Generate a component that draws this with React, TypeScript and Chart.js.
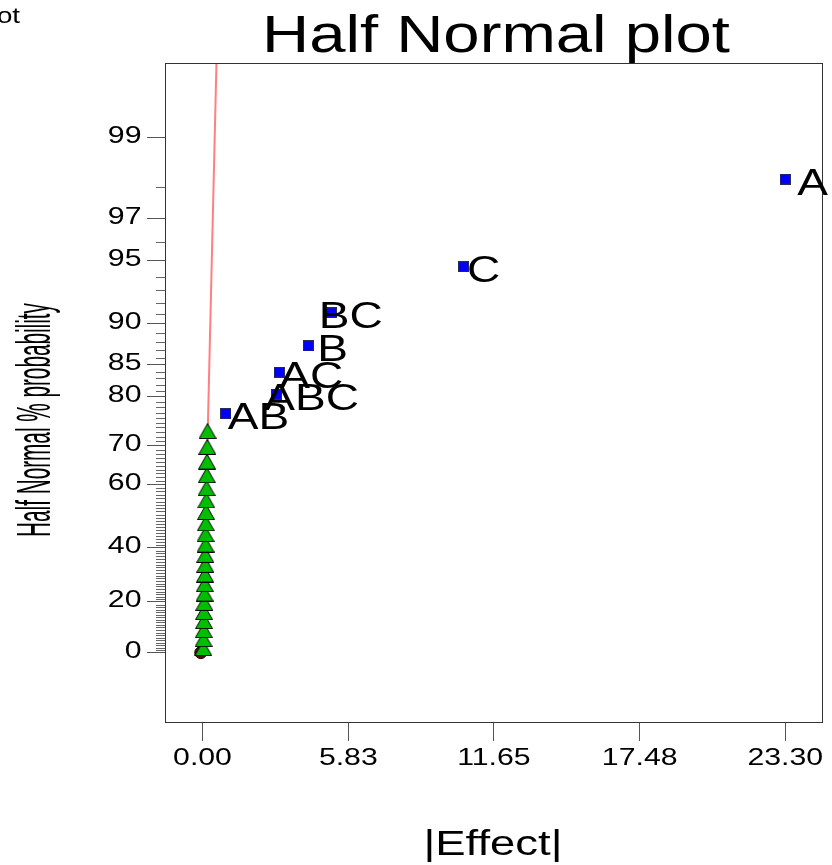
import React, { useEffect, useRef } from 'react';
import { Chart, registerables } from 'chart.js';

Chart.register(...registerables);

const FONT = '"Liberation Sans", Arial, Helvetica, sans-serif';

// Ranked |effect| of the terms treated as noise, with their half-normal plotting positions (%)
const ERROR_EFFECTS = [0.03, 0.04, 0.05, 0.06, 0.06, 0.07, 0.08, 0.09, 0.10, 0.11, 0.11, 0.12, 0.12, 0.13, 0.14, 0.15, 0.16, 0.17, 0.18, 0.19, 0.20];
const ERROR_PROBS = [1.79, 5.36, 8.93, 12.5, 16.07, 19.64, 23.21, 26.79, 30.36, 33.93, 37.5, 41.07, 44.64, 48.21, 51.79, 55.36, 58.93, 62.5, 66.07, 69.64, 73.21];

// Selected model terms
const TERM_NAMES = ['AB', 'ABC', 'AC', 'B', 'BC', 'C', 'A'];
const TERM_EFFECTS = [0.93, 2.95, 3.07, 4.23, 5.15, 10.44, 23.3];
const TERM_PROBS = [76.79, 80.36, 83.93, 87.5, 91.07, 94.64, 98.21];
// horizontal nudge (px) of each term label relative to its marker
const TERM_LABEL_NUDGE = [2, -12, 0, 9, -12.5, 3.5, 12];

// Reference line through the origin fitted to the noise terms
const FIT_EFFECTS = [0, 0.567];
const FIT_PROBS = [0, 99.73];

// Stray marker at the origin
const ORIGIN_EFFECT = [-0.07];
const ORIGIN_PROB = [0];

const Y_MAJOR = [0, 20, 40, 60, 70, 80, 85, 90, 95, 97, 99];
const X_TICKS = [0, 5.83, 11.65, 17.48, 23.3];
const X_TICK_LABELS = ['0.00', '5.83', '11.65', '17.48', '23.30'];

// inverse standard normal CDF (Acklam)
function probit(p: number): number {
  const a = [-3.969683028665376e1, 2.209460984245205e2, -2.759285104469687e2, 1.38357751867269e2, -3.066479806614716e1, 2.506628277459239];
  const b = [-5.447609879822406e1, 1.615858368580409e2, -1.556989798598866e2, 6.680131188771972e1, -1.328068155288572e1];
  const c = [-7.784894002430293e-3, -3.223964580411365e-1, -2.400758277161838, -2.549732539343734, 4.374664141464968, 2.938163982698783];
  const d = [7.784695709041462e-3, 3.224671290700398e-1, 2.445134137142996, 3.754408661907416];
  const pl = 0.02425;
  let q: number, r: number;
  if (p < pl) {
    q = Math.sqrt(-2 * Math.log(p));
    return (((((c[0] * q + c[1]) * q + c[2]) * q + c[3]) * q + c[4]) * q + c[5]) / ((((d[0] * q + d[1]) * q + d[2]) * q + d[3]) * q + 1);
  }
  if (p <= 1 - pl) {
    q = p - 0.5;
    r = q * q;
    return ((((((a[0] * r + a[1]) * r + a[2]) * r + a[3]) * r + a[4]) * r + a[5]) * q) / (((((b[0] * r + b[1]) * r + b[2]) * r + b[3]) * r + b[4]) * r + 1);
  }
  q = Math.sqrt(-2 * Math.log(1 - p));
  return -(((((c[0] * q + c[1]) * q + c[2]) * q + c[3]) * q + c[4]) * q + c[5]) / ((((d[0] * q + d[1]) * q + d[2]) * q + d[3]) * q + 1);
}

// half-normal % probability -> quantile used as the y value
const hn = (pct: number) => (pct <= 0 ? 0 : probit(0.5 + pct / 200));

function drawText(ctx: CanvasRenderingContext2D, text: string, x: number, y: number, size: number, sx: number, align: CanvasTextAlign) {
  ctx.save();
  ctx.font = `${size}px ${FONT}`;
  ctx.textAlign = align;
  ctx.textBaseline = 'alphabetic';
  ctx.fillStyle = '#000';
  ctx.translate(x, y);
  ctx.scale(sx, 1);
  ctx.fillText(text, 0, 0);
  ctx.restore();
}

function makeTriangle(): HTMLCanvasElement {
  const c = document.createElement('canvas');
  c.width = 18;
  c.height = 16;
  const g = c.getContext('2d')!;
  g.beginPath();
  g.moveTo(9, 0.5);
  g.lineTo(17.5, 15.5);
  g.lineTo(0.5, 15.5);
  g.closePath();
  g.fillStyle = '#00bf00';
  g.fill();
  g.strokeStyle = '#000';
  g.lineWidth = 1;
  g.stroke();
  return c;
}

function makeSquare(): HTMLCanvasElement {
  const c = document.createElement('canvas');
  c.width = 11;
  c.height = 11;
  const g = c.getContext('2d')!;
  g.fillStyle = '#0000ff';
  g.fillRect(0, 0, 11, 11);
  g.strokeStyle = '#2a2a55';
  g.lineWidth = 1;
  g.strokeRect(0.5, 0.5, 10, 10);
  return c;
}

const decorations = {
  id: 'halfNormalDecor',
  afterDraw(chart: any) {
    const ctx: CanvasRenderingContext2D = chart.ctx;
    const area = chart.chartArea;
    const xs = chart.scales.x;
    const ys = chart.scales.y;

    // frame
    ctx.save();
    ctx.strokeStyle = '#333';
    ctx.lineWidth = 1;
    ctx.strokeRect(Math.round(area.left) + 0.5, Math.round(area.top) + 0.5, Math.round(area.right - area.left), Math.round(area.bottom - area.top));

    // minor percent ticks
    ctx.strokeStyle = '#666';
    ctx.beginPath();
    for (let p = 1; p < 100; p++) {
      if (Y_MAJOR.includes(p)) continue;
      const y = Math.round(ys.getPixelForValue(hn(p))) + 0.5;
      ctx.moveTo(area.left - 9, y);
      ctx.lineTo(area.left, y);
    }
    ctx.stroke();
    ctx.restore();

    // y tick labels
    Y_MAJOR.forEach((p) => {
      const y = ys.getPixelForValue(hn(p));
      drawText(ctx, String(p), area.left - 23.5, y + 5.5, 24, 1.26, 'right');
    });
    // x tick labels
    X_TICKS.forEach((v, i) => {
      drawText(ctx, X_TICK_LABELS[i], xs.getPixelForValue(v), 765, 24, 1.26, 'center');
    });

    // term labels
    const meta = chart.getDatasetMeta(3);
    meta.data.forEach((el: any, i: number) => {
      drawText(ctx, TERM_NAMES[i], el.x + TERM_LABEL_NUDGE[i], el.y + 15.5, 36, 1.28, 'left');
    });

    // titles
    drawText(ctx, 'Half Normal plot', 496, 51.5, 51, 1.28, 'center');
    drawText(ctx, '|Effect|', 493, 855, 35, 1.3, 'center');
    drawText(ctx, 'DESIGN-EXPERT Plot', 20, 23, 22, 1.26, 'right');

    ctx.save();
    ctx.font = `49px ${FONT}`;
    ctx.textAlign = 'center';
    ctx.textBaseline = 'alphabetic';
    ctx.fillStyle = '#000';
    ctx.translate(50, 420);
    ctx.rotate(-Math.PI / 2);
    ctx.scale(0.423, 1);
    ctx.fillText('Half Normal % probability', 0, 0);
    ctx.restore();
  },
};

export default function App() {
  const ref = useRef<HTMLCanvasElement>(null);

  useEffect(() => {
    document.body.style.margin = '0';
    const canvas = ref.current!;
    const chart = new Chart(canvas, {
      type: 'scatter',
      data: {
        datasets: [
          {
            label: 'fit',
            data: FIT_EFFECTS.map((x, i) => ({ x, y: hn(FIT_PROBS[i]) })),
            showLine: true,
            borderColor: '#ff8080',
            borderWidth: 2,
            pointRadius: 0,
            order: 4,
          },
          {
            label: 'origin',
            data: ORIGIN_EFFECT.map((x, i) => ({ x, y: hn(ORIGIN_PROB[i]) })),
            pointRadius: 6,
            backgroundColor: '#5a0a0a',
            borderColor: '#000',
            borderWidth: 1,
            order: 3,
          },
          {
            label: 'error',
            data: ERROR_EFFECTS.map((x, i) => ({ x, y: hn(ERROR_PROBS[i]) })),
            pointStyle: makeTriangle() as any,
            pointRadius: 9,
            order: 2,
          },
          {
            label: 'terms',
            data: TERM_EFFECTS.map((x, i) => ({ x, y: hn(TERM_PROBS[i]) })),
            pointStyle: makeSquare() as any,
            pointRadius: 6,
            order: 1,
          },
        ],
      },
      options: {
        animation: false,
        responsive: false,
        devicePixelRatio: 1,
        layout: { padding: { left: 0, right: 7, top: 63, bottom: 0 } },
        plugins: { legend: { display: false }, tooltip: { enabled: false }, title: { display: false } },
        scales: {
          x: {
            type: 'linear',
            bounds: 'data',
            min: -1.5,
            max: 24.77,
            afterFit: (s: any) => { s.height = 143; },
            afterBuildTicks: (s: any) => { s.ticks = X_TICKS.map((value) => ({ value })); },
            ticks: { display: false },
            border: { display: false },
            grid: { drawOnChartArea: false, drawTicks: true, tickLength: 19, tickColor: '#555', tickWidth: 1 },
          },
          y: {
            type: 'linear',
            bounds: 'data',
            min: -0.347,
            max: 2.949,
            afterFit: (s: any) => { s.width = 165; },
            afterBuildTicks: (s: any) => { s.ticks = Y_MAJOR.map((p) => ({ value: hn(p) })); },
            ticks: { display: false },
            border: { display: false },
            grid: { drawOnChartArea: false, drawTicks: true, tickLength: 18, tickColor: '#555', tickWidth: 1 },
          },
        },
      },
      plugins: [decorations],
    } as any);
    return () => chart.destroy();
  }, []);

  return <canvas ref={ref} width={832} height={865} style={{ display: 'block' }} />;
}
